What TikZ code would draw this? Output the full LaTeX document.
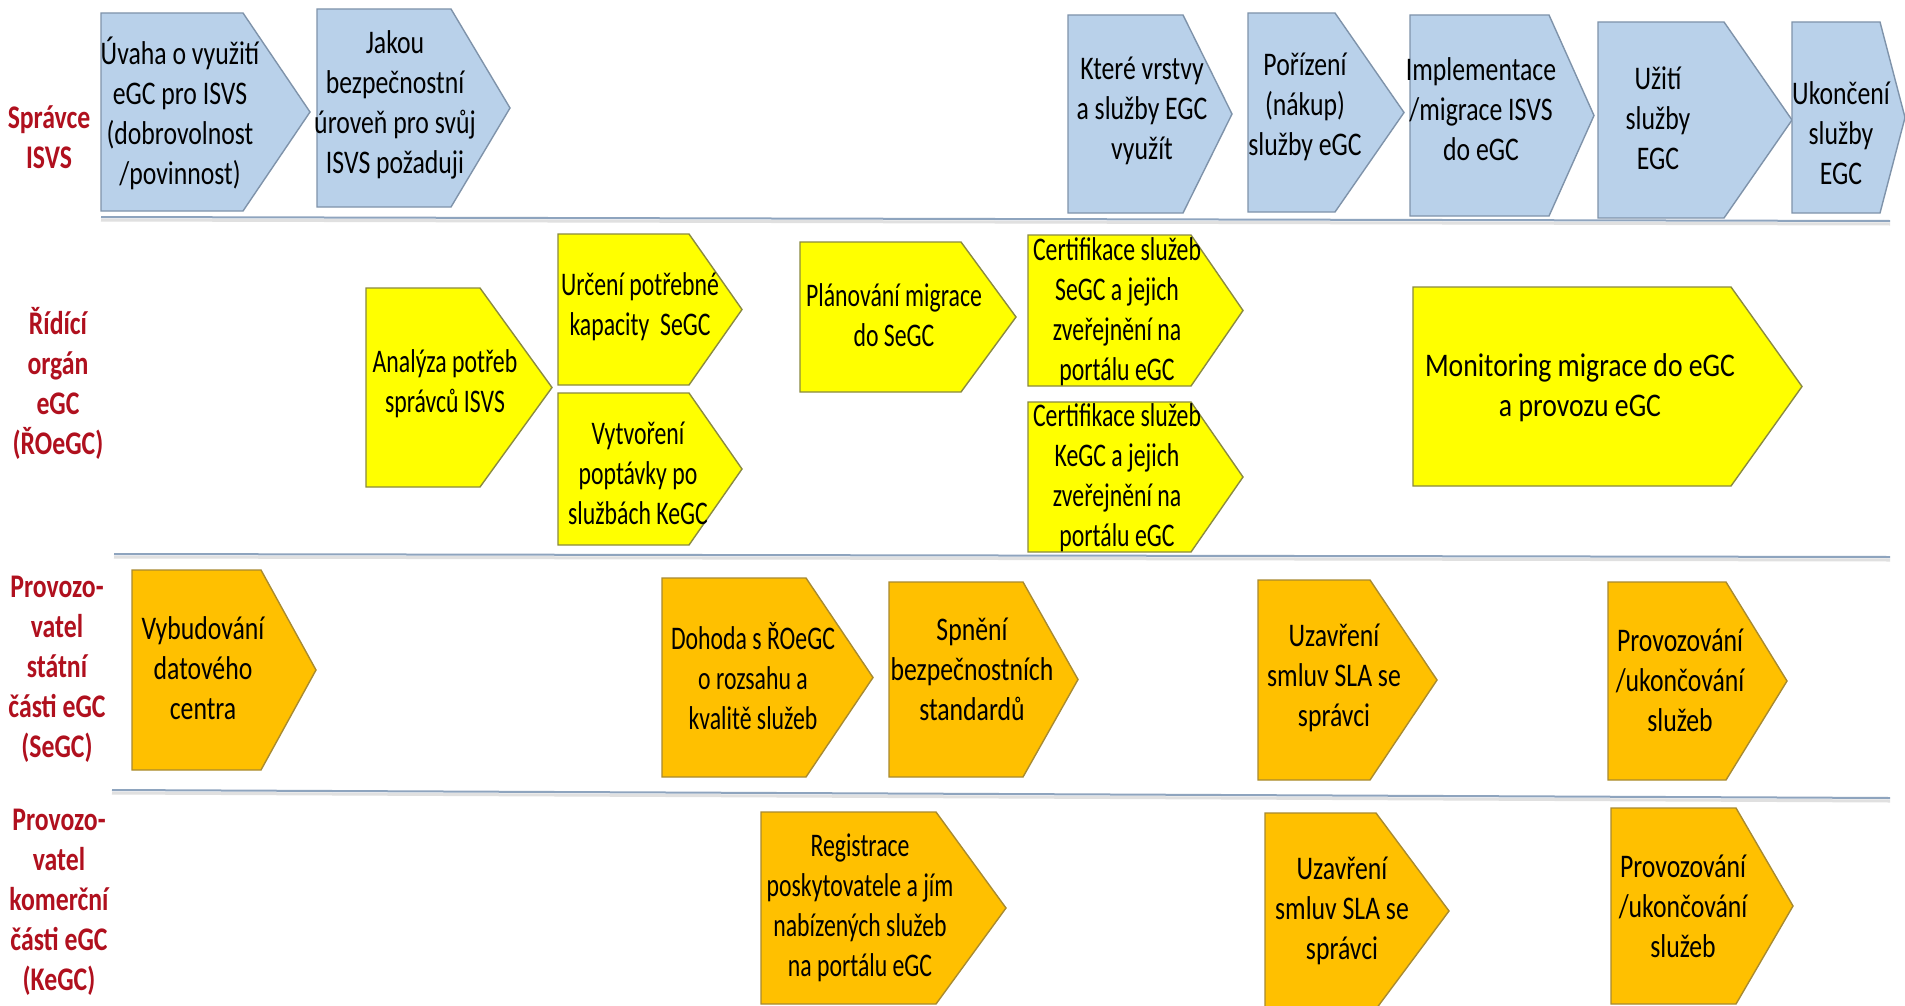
\documentclass[tikz,border=0pt]{standalone}
\usepackage{fontspec}
\setmainfont{Carlito}[FakeStretch=0.78]
\newfontfamily\condfont{Carlito}[FakeStretch=0.72]
\newfontfamily\widefont{Carlito}[FakeStretch=0.84]
\definecolor{bluefill}{HTML}{B9D1EA}
\definecolor{blueedge}{HTML}{7F93AA}
\definecolor{yelfill}{HTML}{FFFF00}
\definecolor{yeledge}{HTML}{8A8A40}
\definecolor{orgfill}{HTML}{FFC000}
\definecolor{orgedge}{HTML}{A88A30}
\definecolor{lanered}{HTML}{B0101E}
\definecolor{sepline}{HTML}{8EA4BE}
\tikzset{
  bluebox/.style={fill=bluefill,draw=blueedge,line width=0.7pt},
  yelbox/.style={fill=yelfill,draw=yeledge,line width=0.7pt},
  orgbox/.style={fill=orgfill,draw=orgedge,line width=0.7pt},
  txt/.style={align=center,inner sep=0pt,font=\fontsize{16.5}{20}\selectfont},
  ctxt/.style={align=center,inner sep=0pt,font=\condfont\fontsize{16.5}{20}\selectfont},
  wtxt/.style={align=center,inner sep=0pt,font=\widefont\fontsize{16.5}{20}\selectfont},
  lane/.style={align=center,inner sep=0pt,text=lanered,font=\bfseries\fontsize{16.5}{20}\selectfont},
  sep/.style={draw=sepline,line width=1pt},
  sepshadow/.style={draw=black!12,line width=1.5pt}
}
% chevron: left, top, rect right, tip, bottom
\newcommand{\chev}[6]{\path[#1] (#2,#3) -- (#4,#3) -- (#5,{(#3+#6)/2}) -- (#4,#6) -- (#2,#6) -- cycle;}
\begin{document}
\begin{tikzpicture}[x=0.5pt,y=-0.5pt]
\useasboundingbox (0,0) rectangle (1905,1006);
\clip (0,0) rectangle (1905,1006);
\fill[white] (0,0) rectangle (1905,1006);
% separator lines
\draw[sepshadow] (101,220) -- (1890,224);
\draw[sep] (101,217) -- (1890,221);
\draw[sepshadow] (114,557) -- (1890,560);
\draw[sep] (114,554) -- (1890,557);
\draw[sepshadow] (112,793) -- (1890,801);
\draw[sep] (112,790) -- (1890,798);
% lane labels
\node[lane] (l1) at (49,137) {Správce\\ISVS};
\node[lane] (l2) at (58,383) {Řídící\\orgán\\eGC\\(ŘOeGC)};
\node[lane] (l3) at (57,669) {Provozo-\\vatel\\státní\\části eGC\\(SeGC)};
\node[lane] (l4) at (59,902) {Provozo-\\vatel\\komerční\\části eGC\\(KeGC)};
% row 1
\chev{bluebox}{101}{13}{243}{310}{211}
\chev{bluebox}{317}{9}{451}{510}{207}
\chev{bluebox}{1068}{15}{1183}{1232}{213}
\chev{bluebox}{1248}{13}{1335}{1404}{212}
\chev{bluebox}{1410}{15}{1549}{1594}{216}
\chev{bluebox}{1598}{22}{1724}{1792}{218}
\chev{bluebox}{1792}{22}{1880}{1905}{213}
\node[txt] (b1) at (180,113) {Úvaha o využití\\eGC pro ISVS\\(dobrovolnost\\/povinnost)};
\node[txt] (b2) at (395,105) {Jakou\\bezpečnostní\\úroveň pro svůj\\ISVS požaduji};
\node[txt] (b3) at (1142,111) {Které vrstvy\\a služby EGC\\využít};
\node[txt] (b4) at (1305,107) {Pořízení\\(nákup)\\služby eGC};
\node[txt] (b5) at (1481,109) {Implementace\\/migrace ISVS\\do eGC};
\node[txt] (b6) at (1658,118) {Užití\\služby\\EGC};
\node[txt] (b7) at (1841,133) {Ukončení\\služby\\EGC};
% row 2
\chev{yelbox}{366}{288}{480}{552}{487}
\chev{yelbox}{558}{234}{689}{742}{385}
\chev{yelbox}{558}{393}{689}{742}{545}
\chev{yelbox}{800}{242}{961}{1016}{392}
\chev{yelbox}{1028}{235}{1191}{1243}{386}
\chev{yelbox}{1028}{402}{1191}{1243}{552}
\chev{yelbox}{1413}{287}{1731}{1802}{486}
\node[ctxt] (y1) at (445,384) {Analýza potřeb\\správců ISVS};
\node[ctxt] (y2) at (640,307) {Určení potřebné\\kapacity\ \ SeGC};
\node[ctxt] (y3) at (638,473) {Vytvoření\\poptávky po\\službách KeGC};
\node[ctxt] (y4) at (894,315) {Plánování migrace\\do SeGC};
\node[ctxt] (y5) at (1117,312) {Certifikace služeb\\SeGC a jejich\\zveřejnění na\\portálu eGC};
\node[ctxt] (y6) at (1117,478) {Certifikace služeb\\KeGC a jejich\\zveřejnění na\\portálu eGC};
\node[wtxt] (y7) at (1580,388) {Monitoring migrace do eGC\\a provozu eGC};
% row 3
\chev{orgbox}{132}{570}{261}{316}{770}
\chev{orgbox}{662}{578}{806}{873}{777}
\chev{orgbox}{889}{582}{1023}{1078}{777}
\chev{orgbox}{1258}{580}{1370}{1437}{780}
\chev{orgbox}{1608}{582}{1726}{1787}{780}
\node[txt] (o1) at (203,668) {Vybudování\\datového\\centra};
\node[ctxt] (o2) at (753,676) {Dohoda s ŘOeGC\\o rozsahu a\\kvalitě služeb};
\node[txt] (o3) at (972,669) {Spnění\\bezpečnostních\\standardů};
\node[txt] (o4) at (1334,678) {Uzavření\\smluv SLA se\\správci};
\node[txt] (o5) at (1680,680) {Provozování\\/ukončování\\služeb};
% row 4
\chev{orgbox}{761}{812}{936}{1006}{1004}
\chev{orgbox}{1265}{813}{1376}{1449}{1009}
\chev{orgbox}{1611}{808}{1736}{1793}{1004}
\node[ctxt] (o6) at (860,908) {Registrace\\poskytovatele a jím\\nabízených služeb\\na portálu eGC};
\node[txt] (o7) at (1342,911) {Uzavření\\smluv SLA se\\správci};
\node[txt] (o8) at (1683,906) {Provozování\\/ukončování\\služeb};
\end{tikzpicture}
\end{document}
